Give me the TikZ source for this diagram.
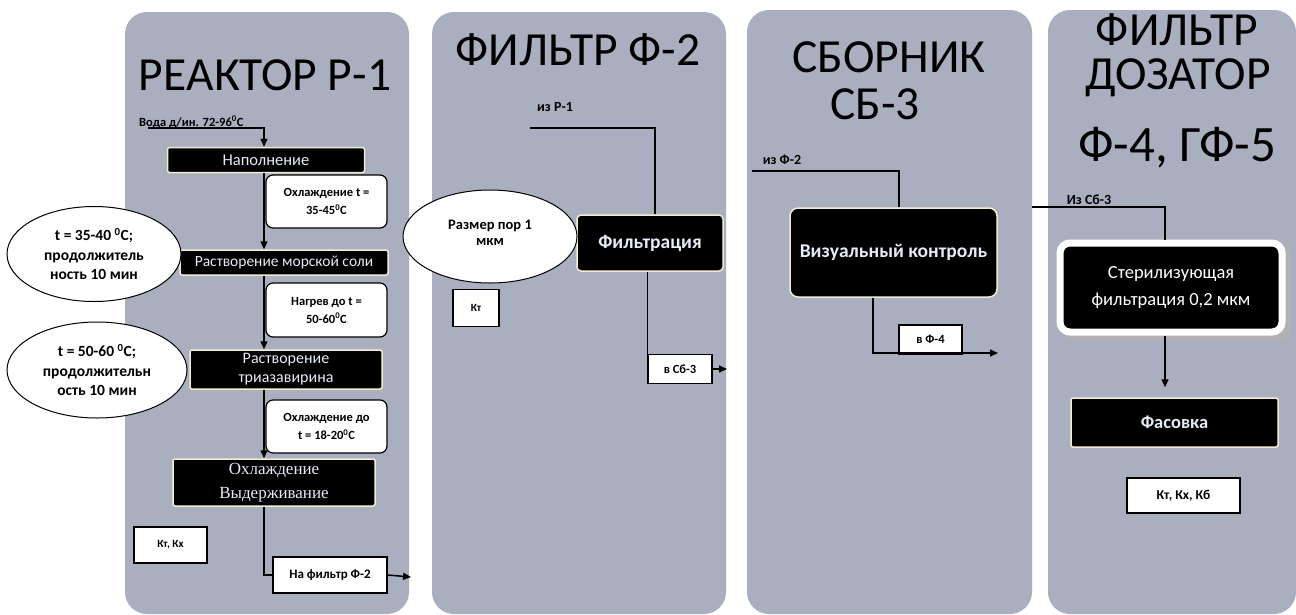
\documentclass[tikz,border=0pt]{standalone}
\usepackage{fontspec}
\setmainfont{Carlito}
\newfontfamily\serifalt{Liberation Serif}
\usetikzlibrary{shapes.geometric,arrows.meta}
\definecolor{panelc}{HTML}{A9AFBF}
\definecolor{cream}{HTML}{F2EDCF}
\definecolor{txtw}{HTML}{E4ECF7}
\tikzset{
 bbox/.style={fill=black, draw=cream, line width=1.5pt, rounded corners=2pt, text=txtw, align=center, inner sep=0pt},
 wbox/.style={fill=white, draw=black, line width=1.2pt, rounded corners=7pt, align=center, font=\bfseries\fontsize{12.5}{18}\selectfont, inner sep=0pt},
 sbox/.style={fill=white, draw=black, line width=1.2pt, align=center, font=\bfseries\fontsize{11}{13}\selectfont, inner sep=0pt},
 ell/.style={ellipse, fill=white, draw=black, line width=1pt, align=center, inner sep=0pt, font=\bfseries\fontsize{15.5}{19.5}\selectfont},
 ttl/.style={font=\fontsize{47.5}{50}\selectfont, inner sep=0pt},
 lbl/.style={font=\bfseries\fontsize{14}{16}\selectfont, inner sep=0pt},
 conn/.style={line width=1.5pt},
 arr/.style={conn, -{Triangle[length=8pt,width=7pt]}},
 panel/.style={fill=panelc, rounded corners=22pt}
}
\begin{document}
\begin{tikzpicture}[x=1pt,y=-1pt]
\useasboundingbox (0,0) rectangle (1296,614);
% panels
\fill[panel] (125,12) rectangle (409,614);
\fill[panel] (432,12) rectangle (726,614);
\fill[panel] (747,10) rectangle (1032,614);
\fill[panel] (1048,10) rectangle (1296,614);
% titles
\node[ttl] (t1) at (265,75) {РЕАКТОР Р-1};
\node[ttl] (t2) at (578,50) {ФИЛЬТР Ф-2};
\node[ttl] (t3a) at (889,57) {СБОРНИК};
\node[ttl] (t3b) at (875,104) {СБ-3};
\node[ttl] (t4a) at (1177,30) {ФИЛЬТР};
\node[ttl] (t4b) at (1178,78) {ДОЗАТОР};
\node[ttl, font=\fontsize{51}{54}\selectfont] (t4c) at (1177,148) {Ф-4, ГФ-5};
% ---------- panel 1
\node[lbl, anchor=west, font=\bfseries\fontsize{12.5}{14}\selectfont] (voda) at (139,122) {Вода д/ин. 72-96\textsuperscript{0}С};
\node[bbox, minimum width=197, minimum height=25, font=\fontsize{16.5}{18}\selectfont] (nap) at (266,160) {Наполнение};
\node[wbox, minimum width=121, minimum height=53] (w1) at (326.5,201.5) {Охлаждение t =\\35-45\textsuperscript{0}С};
\node[bbox, minimum width=208, minimum height=25, font=\fontsize{15.5}{17}\selectfont] (rms) at (284,262.5) {Растворение морской соли};
\node[wbox, minimum width=121, minimum height=54] (w2) at (326.5,310) {Нагрев до t =\\50-60\textsuperscript{0}С};
\node[bbox, minimum width=192, minimum height=39, font=\fontsize{16}{19}\selectfont] (rtr) at (286,369.5) {Растворение\\триазавирина};
\node[wbox, minimum width=121, minimum height=53] (w3) at (326.5,426.5) {Охлаждение до\\t = 18-20\textsuperscript{0}С};
\node[bbox, minimum width=202, minimum height=47, font=\serifalt\fontsize{17}{24}\selectfont] (ovd) at (274,482.5) {Охлаждение\\Выдерживание};
\node[sbox, minimum width=73, minimum height=36] (k1) at (170.5,545) {Кт, Кх};
\node[sbox, minimum width=114, minimum height=36, font=\bfseries\fontsize{13}{15}\selectfont] (nf) at (330,575) {На фильтр Ф-2};
\node[ell, minimum width=174, minimum height=95] (e1) at (94,254) {t = 35-40 \textsuperscript{0}С;\\продолжитель\\ность 10 мин};
\node[ell, minimum width=180, minimum height=96] (e2) at (97,370) {t = 50-60 \textsuperscript{0}С;\\продолжительн\\ость 10 мин};
\coordinate (sp) at (264,0);
\coordinate (v0) at (148,128);
\coordinate (o1) at (411,577);
\draw[arr] (v0) -- (v0 -| sp) -- (nap.north -| sp);
\draw[arr] (nap.south -| sp) -- (rms.north -| sp);
\draw[arr] (rms.south -| sp) -- (rtr.north -| sp);
\draw[arr] (rtr.south -| sp) -- (ovd.north -| sp);
\draw[conn] (ovd.south -| sp) |- (nf.west);
\draw[arr] (nf.east) -- (o1);
% ---------- panel 2
\node[lbl] (izr) at (555,107) {из Р-1};
\node[bbox, minimum width=146, minimum height=56, font=\bfseries\fontsize{19.5}{21}\selectfont, rounded corners=4pt] (filt) at (650,243) {Фильтрация};
\node[ell, minimum width=174, minimum height=93, font=\bfseries\fontsize{14.5}{20}\selectfont] (e3) at (490,236.5) {\raisebox{8pt}{\shortstack{Размер пор 1\\[4pt]мкм}}};
\node[sbox, minimum width=46, minimum height=37, font=\bfseries\fontsize{11}{12}\selectfont] (k2) at (476,308) {Кт};
\node[sbox, minimum width=64, minimum height=29, font=\bfseries\fontsize{12.5}{14}\selectfont] (vsb) at (680,369) {в Сб-3};
\coordinate (p1) at (530,128);
\coordinate (fx) at (655,0);
\coordinate (o2) at (727,369);
\draw[conn] (p1) -| (filt.north -| fx);
\draw[conn] (vsb.north west |- filt.south) -- (vsb.north west);
\draw[arr] (vsb.east) -- (o2);
% ---------- panel 3
\node[lbl] (izf) at (782,160) {из Ф-2};
\node[bbox, minimum width=207, minimum height=89, font=\bfseries\fontsize{19.5}{21}\selectfont, rounded corners=8pt] (viz) at (893.5,252.5) {Визуальный контроль};
\node[sbox, minimum width=63, minimum height=29, font=\bfseries\fontsize{12.5}{14}\selectfont] (vf4) at (930.5,339.5) {в Ф-4};
\coordinate (p3) at (752,171);
\coordinate (vx) at (899,0);
\coordinate (vx2) at (873,0);
\coordinate (o3) at (998,353);
\draw[conn] (p3) -| (viz.north -| vx);
\draw[arr] (viz.south -| vx2) |- (o3);
% ---------- panel 4
\node[lbl] (izs) at (1089,200) {Из Сб-3};
\fill[black!30, rounded corners=10pt] (1062,245) rectangle (1291,339);
\node[fill=black, draw=white, line width=7pt, rounded corners=10pt, minimum width=222, minimum height=89, text=white, align=center, inner sep=0pt, font=\fontsize{18.5}{27}\selectfont] (ster) at (1171,287.5) {Стерилизующая\\фильтрация 0,2 мкм};
\node[bbox, minimum width=207, minimum height=49, font=\bfseries\fontsize{18.5}{20}\selectfont] (fas) at (1174.5,422.5) {Фасовка};
\node[sbox, minimum width=113, minimum height=35, font=\bfseries\fontsize{13.5}{15}\selectfont] (k3) at (1183.5,495.5) {Кт, Кх, Кб};
\coordinate (p4) at (1032,207);
\coordinate (sx) at (1165,0);
\draw[conn] (p4) -| (ster.north -| sx);
\draw[arr, shorten >=10pt] (ster.south -| sx) -- (fas.north -| sx);
\end{tikzpicture}
\end{document}
